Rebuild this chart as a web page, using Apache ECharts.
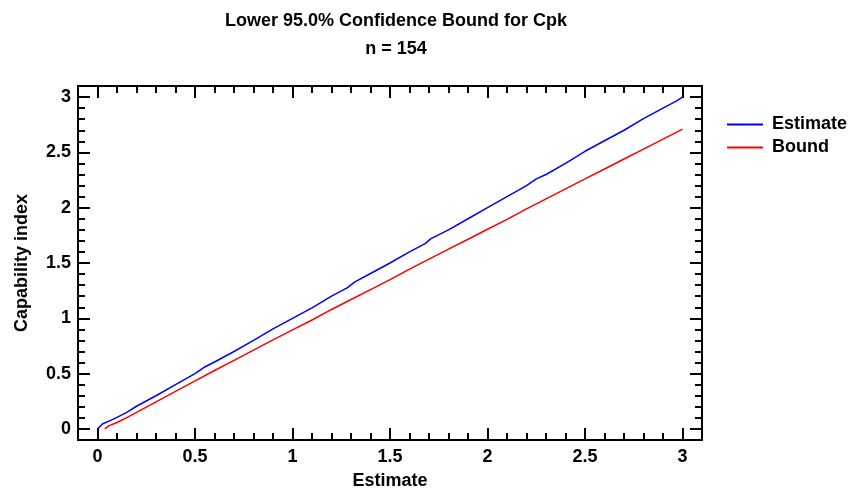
<!DOCTYPE html>
<html>
<head>
<meta charset="utf-8">
<script src="https://cdn.jsdelivr.net/npm/echarts@6/dist/echarts.min.js"></script>
<style>
html,body{margin:0;padding:0;background:#fff;}
#chart{width:851px;height:495px;}
</style>
</head>
<body>
<div id="chart"></div>
<script>
// ---- data ----
var estimateX = [0, 0.025, 0.07, 0.1, 0.15, 0.2, 0.3, 0.4, 0.5, 0.55, 0.6, 0.7, 0.8, 0.9, 1.0, 1.1, 1.2, 1.28, 1.32, 1.4, 1.5, 1.6, 1.68, 1.71, 1.8, 1.9, 2.0, 2.1, 2.2, 2.25, 2.3, 2.4, 2.5, 2.6, 2.7, 2.8, 2.9, 2.97, 3.0];
var estimateY = [0, 0.045, 0.08, 0.105, 0.15, 0.205, 0.30, 0.40, 0.50, 0.56, 0.605, 0.70, 0.80, 0.905, 1.0, 1.095, 1.2, 1.275, 1.33, 1.405, 1.5, 1.6, 1.675, 1.72, 1.8, 1.9, 2.0, 2.1, 2.2, 2.26, 2.3, 2.4, 2.51, 2.605, 2.7, 2.805, 2.9, 2.965, 3.0];
var boundX = [0.037, 0.06, 0.1, 0.15, 0.2, 0.3, 0.4, 0.5, 0.6, 0.7, 0.8, 0.9, 1.0, 1.1, 1.2, 1.3, 1.4, 1.5, 1.6, 1.7, 1.8, 1.9, 2.0, 2.1, 2.2, 2.3, 2.4, 2.5, 2.6, 2.7, 2.8, 2.9, 3.0];
var boundY = [0, 0.03, 0.058, 0.103, 0.15, 0.245, 0.34, 0.435, 0.528, 0.62, 0.712, 0.805, 0.895, 0.985, 1.08, 1.17, 1.26, 1.35, 1.445, 1.535, 1.625, 1.715, 1.805, 1.895, 1.99, 2.08, 2.17, 2.26, 2.35, 2.44, 2.53, 2.62, 2.71];
var majorTicks = [0, 0.5, 1, 1.5, 2, 2.5, 3];
var minorTicks = [0.1, 0.2, 0.3, 0.4, 0.6, 0.7, 0.8, 0.9, 1.1, 1.2, 1.3, 1.4, 1.6, 1.7, 1.8, 1.9, 2.1, 2.2, 2.3, 2.4, 2.6, 2.7, 2.8, 2.9];
var seriesNames = ['Estimate', 'Bound'];
var titleText = 'Lower 95.0% Confidence Bound for Cpk';
var subtitleText = 'n = 154';
var xAxisName = 'Estimate';
var yAxisName = 'Capability index';

function zip(a, b) { return a.map(function (v, i) { return [v, b[i]]; }); }

var FONT = '"Liberation Sans", Arial, sans-serif';
var FS = 18;
var AMIN = -0.1, AMAX = 3.1;

function mkAxis(kind, pos, major, showLine, showLabel, name) {
  var ax = {
    type: 'value', min: AMIN, max: AMAX, position: pos,
    splitLine: { show: false },
    axisLine: { show: showLine, onZero: false, lineStyle: { color: '#000', width: 2 } },
    axisTick: { show: true, inside: true, length: major ? 12 : 7,
      customValues: major ? majorTicks : minorTicks,
      lineStyle: { color: '#000', width: 2 } },
    axisLabel: { show: showLabel, customValues: majorTicks, color: '#000',
      fontFamily: FONT, fontWeight: 'bold', fontSize: FS,
      margin: kind === 'x' ? 8 : 7 }
  };
  if (name) {
    ax.name = name;
    ax.nameLocation = 'middle';
    ax.nameTextStyle = { color: '#000', fontFamily: FONT, fontWeight: 'bold', fontSize: FS };
    ax.nameGap = kind === 'x' ? 32 : 47;
  }
  return ax;
}

var chart = echarts.init(document.getElementById('chart'), null, { renderer: 'canvas' });
chart.setOption({
  animation: false,
  backgroundColor: '#fff',
  title: [
    { text: titleText, left: 391, top: 7, textAlign: 'center',
      textStyle: { fontFamily: FONT, fontWeight: 'bold', fontSize: FS, color: '#000' } },
    { text: subtitleText, left: 391, top: 35, textAlign: 'center',
      textStyle: { fontFamily: FONT, fontWeight: 'bold', fontSize: FS, color: '#000' } }
  ],
  grid: { left: 78, top: 86, width: 624, height: 359, containLabel: false },
  legend: {
    data: seriesNames, orient: 'vertical', left: 722, top: 110,
    icon: 'rect', itemWidth: 36, itemHeight: 2, itemGap: 4,
    textStyle: { fontFamily: FONT, fontWeight: 'bold', fontSize: FS, lineHeight: 19, color: '#000', padding: [0, 0, 0, 4] }
  },
  xAxis: [
    mkAxis('x', 'bottom', true, true, true, xAxisName),
    mkAxis('x', 'bottom', false, false, false),
    mkAxis('x', 'top', true, true, false),
    mkAxis('x', 'top', false, false, false)
  ],
  yAxis: [
    mkAxis('y', 'left', true, true, true, yAxisName),
    mkAxis('y', 'left', false, false, false),
    mkAxis('y', 'right', true, true, false),
    mkAxis('y', 'right', false, false, false)
  ],
  series: [
    { name: seriesNames[0], type: 'line', data: zip(estimateX, estimateY),
      showSymbol: false, symbol: 'none', color: '#0000ff',
      lineStyle: { color: '#0000ff', width: 1.5 } },
    { name: seriesNames[1], type: 'line', data: zip(boundX, boundY),
      showSymbol: false, symbol: 'none', color: '#ff0000',
      lineStyle: { color: '#ff0000', width: 1.5 } }
  ]
});
</script>
</body>
</html>
